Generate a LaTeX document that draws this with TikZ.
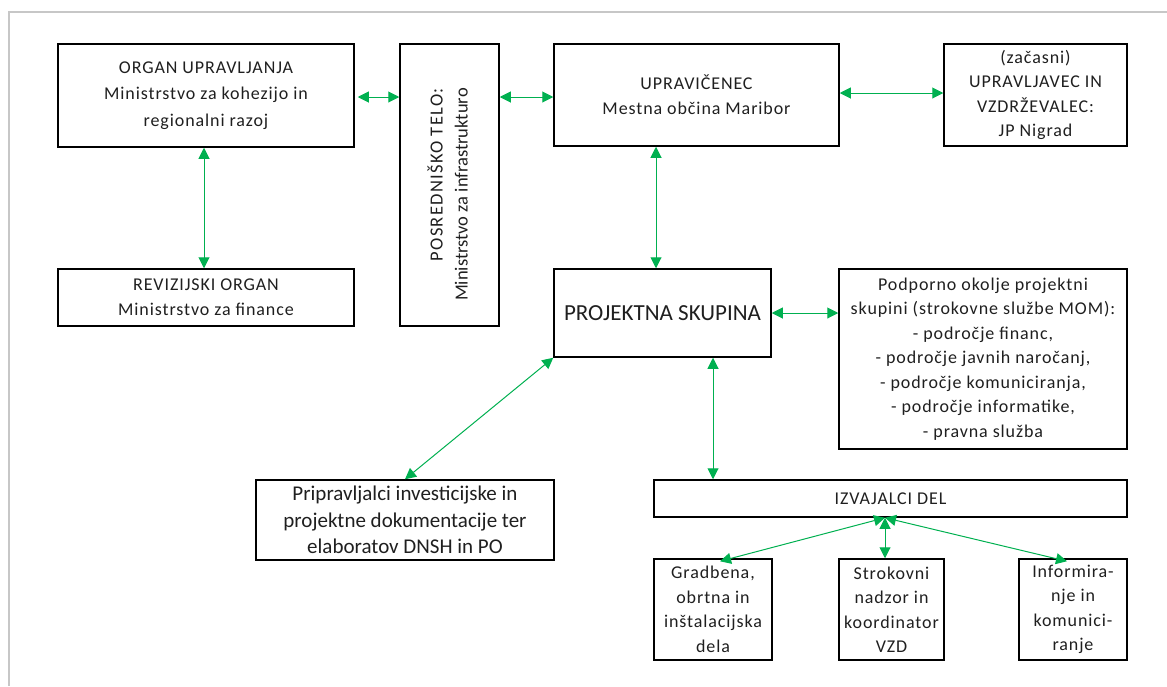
\documentclass[tikz,border=0pt]{standalone}
\usepackage{fontspec}
\setmainfont{Carlito}[LetterSpace=5]
\usetikzlibrary{arrows.meta,calc}
\definecolor{arrgreen}{HTML}{00B050}
\begin{document}
\begin{tikzpicture}[x=1pt,y=-1pt,
  box/.style={draw=black,line width=1.5pt,align=center,inner sep=0pt,
    font=\fontsize{18}{25}\selectfont,text=black!88},
  link/.style={draw=arrgreen,line width=1pt,
    {Triangle[length=11pt,width=11pt]}-{Triangle[length=11pt,width=11pt]}}]
\useasboundingbox (0,0) rectangle (1167,686);
\draw[black!22,line width=2pt] (8.5,686) -- (8.5,12) -- (1167,12);

\node[box,minimum width=296pt,minimum height=103pt,font=\fontsize{18}{26.5}\selectfont] (org) at (206,95.5)
  {ORGAN UPRAVLJANJA\\Ministrstvo za kohezijo in\\regionalni razoj};
\node[box,minimum width=99pt,minimum height=282pt] (pos) at (449.5,185) {};
\node[rotate=90,anchor=east,align=right,inner sep=0pt,
  font=\fontsize{18.5}{25}\selectfont\addfontfeature{LetterSpace=0},text=black!88] (posT) at (447.5,88)
  {{\addfontfeature{LetterSpace=7}POSREDNIŠKO TELO:}\\Ministrstvo za infrastrukturo};
\node[box,minimum width=285pt,minimum height=102pt] (upr) at (696.5,95)
  {UPRAVIČENEC\\Mestna občina Maribor};
\node[box,minimum width=183pt,minimum height=102pt,font=\fontsize{18}{24.5}\selectfont] (jp) at (1035.5,95)
  {(začasni)\\UPRAVLJAVEC IN\\VZDRŽEVALEC:\\JP Nigrad};
\node[box,minimum width=296pt,minimum height=57pt] (rev) at (206,297.5)
  {REVIZIJSKI ORGAN\\Ministrstvo za finance};
\node[box,minimum width=217pt,minimum height=88pt,
  font=\fontsize{23}{28}\selectfont\addfontfeature{LetterSpace=0}] (proj) at (662.5,313)
  {PROJEKTNA SKUPINA};
\node[box,minimum width=288pt,minimum height=180pt,font=\fontsize{18}{24.5}\selectfont] (pod) at (983,359)
  {Podporno okolje projektni\\skupini (strokovne službe MOM):\\- področje financ,\\- področje javnih naročanj,\\- področje komuniciranja,\\- področje informatike,\\- pravna služba};
\node[box,minimum width=298pt,minimum height=80pt,
  font=\fontsize{21}{26.5}\selectfont\addfontfeature{LetterSpace=0}] (prip) at (405,520)
  {Pripravljalci investicijske in\\projektne dokumentacije ter\\elaboratov DNSH in PO};
\node[box,minimum width=473pt,minimum height=37pt] (izv) at (890.5,498.5)
  {IZVAJALCI DEL};
\node[box,minimum width=118pt,minimum height=101pt,font=\fontsize{18}{24.5}\selectfont] (grad) at (713,609.5)
  {Gradbena,\\obrtna in\\inštalacijska\\dela};
\node[box,minimum width=105pt,minimum height=101pt,font=\fontsize{18}{24.5}\selectfont] (strok) at (891.5,609.5)
  {Strokovni\\nadzor in\\koordinator\\VZD};
\node[box,minimum width=108pt,minimum height=101pt,font=\fontsize{18}{24.5}\selectfont] (inf) at (1073,609.5)
  {Informira-\\nje in\\komunici-\\ranje};

\path ([xshift=-6.5pt]proj.north) coordinate (pn);
\path ([xshift=50.5pt]proj.south) coordinate (ps);
\path ([xshift=-5.5pt]izv.south) coordinate (izb);

\draw[link] ([xshift=3pt,yshift=-1.5pt]org.east) -- ([yshift=-1.5pt]org.east -| pos.west);
\draw[link] ([yshift=-2pt]pos.east |- upr.west) -- ([yshift=-2pt]upr.west);
\draw[link] ([yshift=2pt]upr.east) -- ([yshift=2pt]jp.west);
\draw[link] ([xshift=-2pt]org.south) -- ([xshift=-2pt]rev.north);
\draw[link] (pn |- upr.south) -- (pn);
\draw[link] (proj.east) -- (proj.east -| pod.west);
\draw[link] (ps) -- (ps |- izv.north);
\draw[link] (proj.south west) -- (prip.north);
\draw[link] (izb) -- ([xshift=7pt,yshift=-3pt]grad.north);
\draw[link] (izb) -- (izb |- strok.north);
\draw[link] (izb) -- ([xshift=-6pt,yshift=-3pt]inf.north);
\end{tikzpicture}
\end{document}
